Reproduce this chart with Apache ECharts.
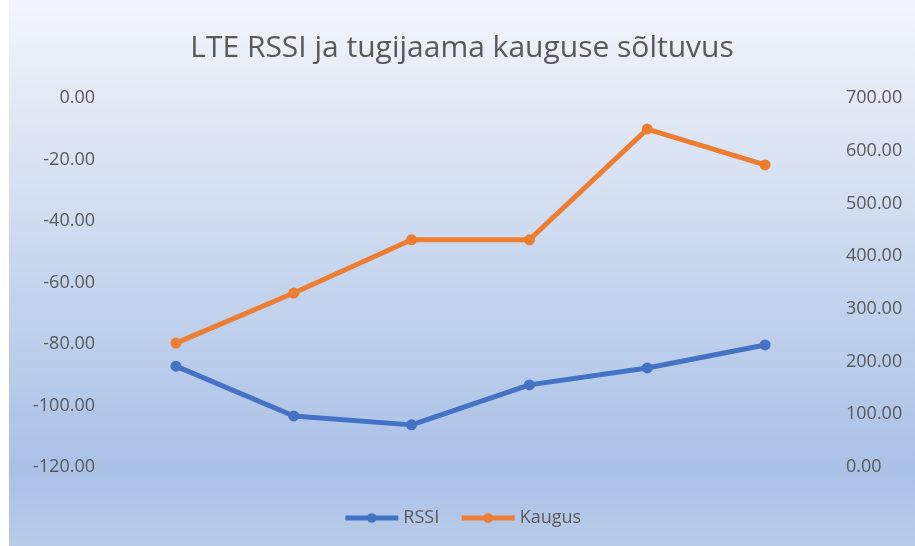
<!DOCTYPE html>
<html>
<head>
<meta charset="utf-8">
<script src="https://cdn.jsdelivr.net/npm/echarts@6/dist/echarts.min.js"></script>
<style>
	html,body{margin:0;padding:0;background:#fff;}
	#main{position:absolute;left:9px;top:0;width:906px;height:546px;}
</style>
</head>
<body>
<div id="main"></div>
<script>
	// andmed
	let categories=['1','2','3','4','5','6'];
	let rssi=[-87.2,-103.4,-106.3,-93.3,-87.8,-80.3];
	let kaugus=[235,330,431,431,641,573];
	let leftTicks={min:-120,max:0,interval:20};
	let rightTicks={min:0,max:700,interval:100};

	var myChart=echarts.init(document.getElementById('main'));
	var fnt='"Open Sans", "Noto Sans", sans-serif';

	var option={
		backgroundColor:{
			type:'linear',x:0,y:0,x2:0,y2:1,
			colorStops:[
				{offset:0,color:'#f3f5fa'},
				{offset:0.5,color:'#c7d6ee'},
				{offset:0.86,color:'#aac1e6'},
				{offset:1,color:'#b9cbe9'}
			]
		},
		title:{
			text:'LTE RSSI ja tugijaama kauguse sõltuvus',
			left:'center',
			top:28,
			textStyle:{fontFamily:fnt,fontSize:30,fontWeight:'normal',color:'#595959'}
		},
		legend:{
			data:['RSSI','Kaugus'],
			bottom:14,
			left:'center',
			itemWidth:53,
			itemHeight:12,
			itemGap:20,
			lineStyle:{width:5},
			textStyle:{fontFamily:fnt,fontSize:18,color:'#595959'}
		},
		grid:{left:108,right:91,top:98,bottom:79,containLabel:false},
		xAxis:{
			type:'category',
			data:categories,
			boundaryGap:true,
			axisLine:{show:false},
			axisTick:{show:false},
			axisLabel:{show:false}
		},
		yAxis:[
			{
				type:'value',
				min:leftTicks.min,max:leftTicks.max,interval:leftTicks.interval,
				splitLine:{show:false},
				axisLine:{show:false},
				axisTick:{show:false},
				axisLabel:{
					margin:22,
					fontFamily:fnt,fontSize:18,color:'#595959',
					formatter:function(v){return v.toFixed(2);}
				}
			},
			{
				type:'value',
				position:'right',
				min:rightTicks.min,max:rightTicks.max,interval:rightTicks.interval,
				splitLine:{show:false},
				axisLine:{show:false},
				axisTick:{show:false},
				axisLabel:{
					margin:22,
					fontFamily:fnt,fontSize:18,color:'#595959',
					formatter:function(v){return v.toFixed(2);}
				}
			}
		],
		series:[
			{
				name:'RSSI',
				type:'line',
				yAxisIndex:0,
				symbol:'circle',
				symbolSize:11,
				itemStyle:{color:'#4472c4'},
				lineStyle:{color:'#4472c4',width:5},
				data:rssi
			},
			{
				name:'Kaugus',
				type:'line',
				yAxisIndex:1,
				symbol:'circle',
				symbolSize:11,
				itemStyle:{color:'#ed7d31'},
				lineStyle:{color:'#ed7d31',width:5},
				data:kaugus
			}
		]
	};

	myChart.setOption(option);
</script>
</body>
</html>
